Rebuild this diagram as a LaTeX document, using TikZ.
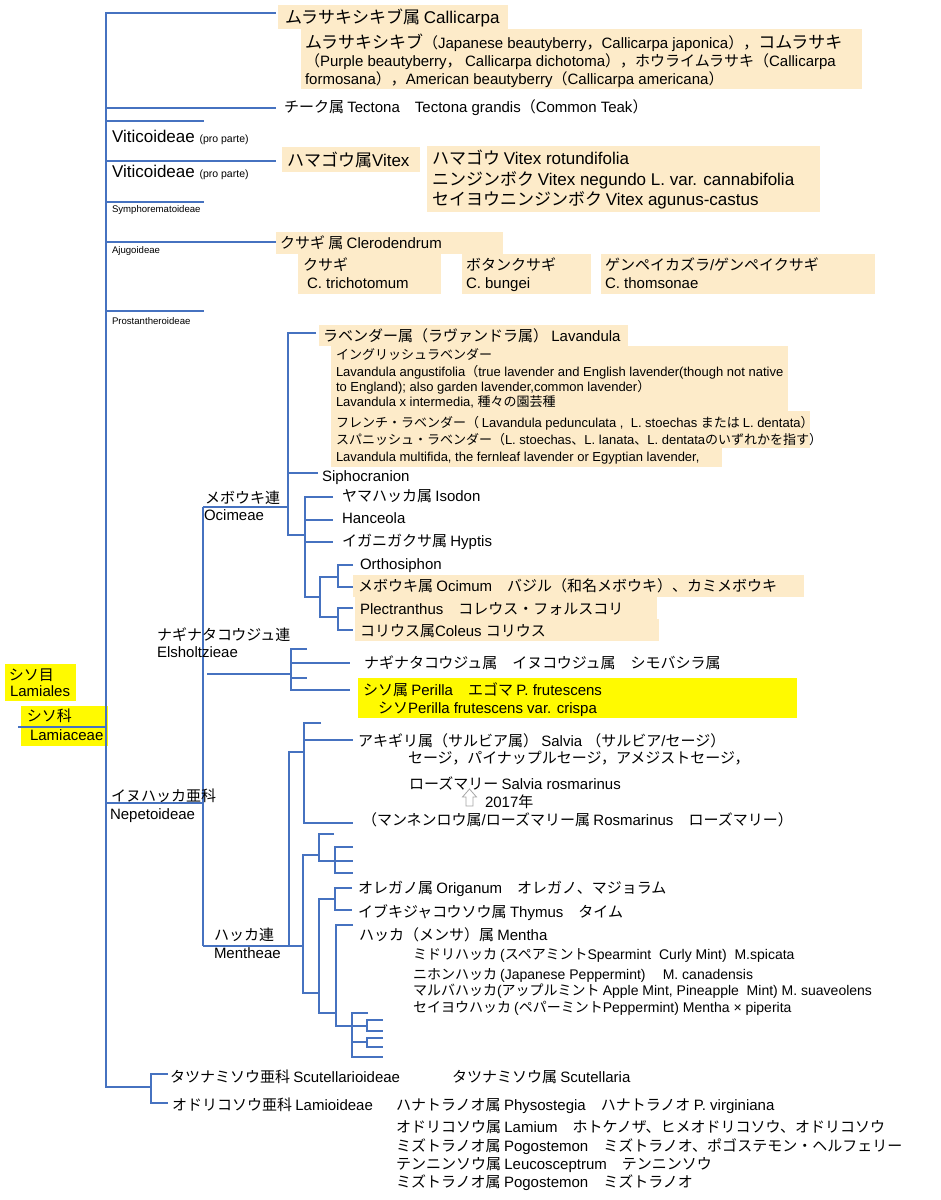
\documentclass[tikz,border=0pt]{standalone}
\usepackage{fontspec}
\setmainfont{Liberation Sans}
\newfontfamily\jpfont{Noto Sans CJK JP}
\newfontfamily\latinfont{Liberation Sans}
\definecolor{tblue}{RGB}{70,114,192}
\definecolor{peach}{RGB}{253,235,201}
\definecolor{hyel}{RGB}{255,250,0}
\newcommand\fsz[1]{\fontsize{#1pt}{#1pt}\selectfont}
% automatic font switching between Latin and Japanese
\newcount\jpc
\jpc="3000
\loop \XeTeXcharclass\jpc=10 \advance\jpc by 1 \ifnum\jpc<"A000 \repeat
\jpc="FF00
\loop \XeTeXcharclass\jpc=10 \advance\jpc by 1 \ifnum\jpc<"FFF0 \repeat
\XeTeXinterchartoks 0 10 = {\jpfont}
\XeTeXinterchartoks 4095 10 = {\jpfont}
\XeTeXinterchartoks 10 0 = {\latinfont}
\XeTeXinterchartoks 4095 0 = {\latinfont}
\tikzset{
  lbl/.style={anchor=west, inner sep=0pt, outer sep=0pt, text depth=0pt},
  t17/.style={lbl, font=\fsz{17}, text height=12.2pt},
  t15/.style={lbl, font=\fsz{15}, text height=10.8pt},
  t14/.style={lbl, font=\fsz{14}, text height=10.1pt},
  t13/.style={lbl, font=\fsz{13}, text height=9.4pt},
  t96/.style={lbl, font=\fsz{9.6}, text height=6.9pt},
  tl/.style={draw=tblue, line width=2.6pt},
}
\begin{document}
\XeTeXinterchartokenstate=1
\begin{tikzpicture}[x=1pt,y=-1pt]
\useasboundingbox (0,0) rectangle (941,1200);
\fill[white] (0,0) rectangle (941,1200);
% ---------- boxes
\fill[peach] (278,5) rectangle (508,29);
\fill[peach] (301,29) rectangle (862,89);
\fill[peach] (282,147) rectangle (420,172);
\fill[peach] (427,146) rectangle (820,212);
\fill[peach] (276,232) rectangle (503,254);
\fill[peach] (298,254) rectangle (441,294);
\fill[peach] (462,254) rectangle (591,294);
\fill[peach] (601,254) rectangle (875,294);
\fill[peach] (319,325) rectangle (628,346);
\fill[peach] (331,346) rectangle (788,411);
\fill[peach] (331,411) rectangle (810,448);
\fill[peach] (331,448) rectangle (722,467);
\fill[peach] (353,575) rectangle (804,597);
\fill[peach] (355,597) rectangle (657,619);
\fill[peach] (355,619) rectangle (659,641);
\fill[hyel] (358,678) rectangle (797,718);
\fill[hyel] (5,664) rectangle (76,701);
\fill[hyel] (21,706) rectangle (108,746);
% ---------- tree
\draw[tl] (106,12) -- (106,1088);
\draw[tl] (106,13) -- (276,13);
\draw[tl] (106,108) -- (276,108);
\draw[tl] (106,121) -- (204,121);
\draw[tl] (106,161) -- (276,161);
\draw[tl] (106,202) -- (204,202);
\draw[tl] (106,242) -- (276,242);
\draw[tl] (106,311) -- (204,311);
\draw[tl] (18,727) -- (106,727);
\draw[tl] (106,803) -- (203,803);
\draw[tl] (106,1087) -- (151,1087);
\draw[tl] (168,1074) -- (151,1074) -- (151,1103) -- (168,1103);
% Nepetoideae
\draw[tl] (203,507) -- (203,946);
% Ocimeae
\draw[tl] (203,507) -- (288,507);
\draw[tl] (316,333) -- (288,333) -- (288,535) -- (305,535);
\draw[tl] (288,473) -- (318,473);
\draw[tl] (333,497) -- (305,497) -- (305,597) -- (320,597);
\draw[tl] (305,520) -- (333,520);
\draw[tl] (305,542) -- (333,542);
\draw[tl] (338,577) -- (320,577) -- (320,617) -- (338,617);
\draw[tl] (353,565) -- (338,565) -- (338,587) -- (353,587);
\draw[tl] (353,608) -- (338,608) -- (338,630) -- (353,630);
% Elsholtzieae
\draw[tl] (207,674) -- (291,674);
\draw[tl] (307,649) -- (291,649) -- (291,690) -- (350,690);
\draw[tl] (291,663) -- (350,663);
\draw[tl] (291,678) -- (307,678);
% Mentheae
\draw[tl] (203,946) -- (303,946);
\draw[tl] (289,946) -- (289,752) -- (304,752);
\draw[tl] (321,723) -- (304,723) -- (304,823) -- (353,823);
\draw[tl] (304,740) -- (353,740);
\draw[tl] (319,855) -- (303,855) -- (303,993) -- (319,993);
\draw[tl] (334,834) -- (319,834) -- (319,861) -- (335,861);
\draw[tl] (353,847) -- (335,847) -- (335,873) -- (353,873);
\draw[tl] (335,861) -- (353,861);
\draw[tl] (335,899) -- (319,899) -- (319,1013) -- (336,1013);
\draw[tl] (352,888) -- (335,888) -- (335,910) -- (352,910);
\draw[tl] (353,925) -- (336,925) -- (336,1026) -- (367,1026);
\draw[tl] (368,1013) -- (352,1013) -- (352,1057) -- (383,1057);
\draw[tl] (383,1020) -- (367,1020) -- (367,1031) -- (383,1031);
\draw[tl] (352,1042) -- (367,1042);
\draw[tl] (383,1038) -- (367,1038) -- (367,1047) -- (383,1047);
% arrow
\draw[gray!70, fill=white, line width=0.8pt] (469.5,789) -- (476.5,797) -- (473,797) -- (473,806) -- (466,806) -- (466,797) -- (462.5,797) -- cycle;
% ---------- texts
\node[t17] (cal) at (285,17) {ムラサキシキブ属 Callicarpa};
\node[t17] (cal1) at (305,42) {ムラサキシキブ{\fsz{15}（Japanese beautyberry，Callicarpa japonica），}コムラサキ};
\node[t15] (cal2) at (305,61) {（Purple beautyberry， Callicarpa dichotoma），ホウライムラサキ（Callicarpa};
\node[t15] (cal3) at (305,79) {formosana），American beautyberry（Callicarpa americana）};
\node[t15] (tec) at (284,107) {チーク属 Tectona　Tectona grandis（Common Teak）};
\node[t17] (vit1) at (112,136) {Viticoideae {\fsz{10.5}(pro parte)}};
\node[t17] (vit2) at (112,171) {Viticoideae {\fsz{10.5}(pro parte)}};
\node[t96] (sym) at (112,209) {Symphorematoideae};
\node[t96] (aju) at (112,250) {Ajugoideae};
\node[t96] (pro) at (112,321) {Prostantheroideae};
\node[t17] (vitg) at (287,160) {ハマゴウ属Vitex};
\node[t17] (vx1) at (432,158) {ハマゴウ Vitex rotundifolia};
\node[t17] (vx2) at (432,179) {ニンジンボク Vitex negundo L. var. cannabifolia};
\node[t17] (vx3) at (432,199) {セイヨウニンジンボク Vitex agunus-castus};
\node[t15] (cle) at (280,243) {クサギ 属 Clerodendrum};
\node[t15] (k1) at (303,265) {クサギ};
\node[t15] (k2) at (307,283) {C. trichotomum};
\node[t15] (b1) at (466,265) {ボタンクサギ};
\node[t15] (b2) at (466,283) {C. bungei};
\node[t15] (g1) at (605,265) {ゲンペイカズラ/ゲンペイクサギ};
\node[t15] (g2) at (605,283) {C. thomsonae};
\node[t15] (lav) at (323,336) {ラベンダー属（ラヴァンドラ属） Lavandula};
\node[t13] (lv1) at (336,355) {イングリッシュラベンダー};
\node[t13] (lv2) at (336,372) {Lavandula angustifolia（true lavender and English lavender(though not native};
\node[t13] (lv3) at (336,387) {to England); also garden lavender,common lavender）};
\node[t13] (lv4) at (336,402) {Lavandula x intermedia, 種々の園芸種};
\node[t13] (lv5) at (336,423) {フレンチ・ラベンダー（ Lavandula pedunculata ,\ \ L. stoechas または L. dentata）};
\node[t13] (lv6) at (336,440) {スパニッシュ・ラベンダー（L. stoechas、L. lanata、L. dentataのいずれかを指す）};
\node[t13] (lv7) at (336,457) {Lavandula multifida, the fernleaf lavender or Egyptian lavender,};
\node[t15] (sip) at (322,476) {Siphocranion};
\node[t15] (iso) at (342,496) {ヤマハッカ属 Isodon};
\node[t15] (han) at (342,518) {Hanceola};
\node[t15] (hyp) at (342,541) {イガニガクサ属 Hyptis};
\node[t15] (ort) at (360,564) {Orthosiphon};
\node[t15] (oci) at (358,586) {メボウキ属 Ocimum　バジル（和名メボウキ）、カミメボウキ};
\node[t15] (ple) at (360,609) {Plectranthus　コレウス・フォルスコリ};
\node[t15] (col) at (360,631) {コリウス属Coleus コリウス};
\node[t15] (ocj) at (205,498) {メボウキ連};
\node[t15] (oce) at (204,515) {Ocimeae};
\node[t15] (elj) at (157,635) {ナギナタコウジュ連};
\node[t15] (ele) at (157,652) {Elsholtzieae};
\node[t15] (nag) at (364,663) {ナギナタコウジュ属　イヌコウジュ属　シモバシラ属};
\node[t15] (per1) at (363,690) {シソ属 Perilla　エゴマ P. frutescens};
\node[t15] (per2) at (378,708) {シソPerilla frutescens var. crispa};
\node[t15] (ordj) at (9,675) {シソ目};
\node[t15] (orde) at (10,691) {Lamiales};
\node[t15] (famj) at (27,716) {シソ科};
\node[t15] (fame) at (30,735) {Lamiaceae};
\node[t15] (nepj) at (111,796) {イヌハッカ亜科};
\node[t15] (nepe) at (110,814) {Nepetoideae};
\node[t15] (sal) at (358,741) {アキギリ属（サルビア属） Salvia （サルビア/セージ）};
\node[t15] (sal2) at (408,758) {セージ，パイナップルセージ，アメジストセージ，};
\node[t15] (ros) at (409,784) {ローズマリー Salvia rosmarinus};
\node[t15] (yr) at (485,802) {2017年};
\node[t15] (ros2) at (362,820) {（マンネンロウ属/ローズマリー属 Rosmarinus　ローズマリー）};
\node[t15] (menj) at (214,935) {ハッカ連};
\node[t15] (mene) at (214,953) {Mentheae};
\node[t15] (ori) at (358,888) {オレガノ属 Origanum　オレガノ、マジョラム};
\node[t15] (thy) at (358,912) {イブキジャコウソウ属 Thymus　タイム};
\node[t15] (mnt) at (359,935) {ハッカ（メンサ）属 Mentha};
\node[t14] (m1) at (413,954) {ミドリハッカ (スペアミントSpearmint\ \ Curly Mint)\ \ M.spicata};
\node[t14] (m2) at (413,974) {ニホンハッカ (Japanese Peppermint)　 M. canadensis};
\node[t14] (m3) at (413,990) {マルバハッカ(アップルミント Apple Mint, Pineapple\ \ Mint) M. suaveolens};
\node[t14] (m4) at (413,1007) {セイヨウハッカ (ペパーミントPeppermint) Mentha × piperita};
\node[t15] (scu) at (170,1077) {タツナミソウ亜科 Scutellarioideae};
\node[t15] (scg) at (452,1077) {タツナミソウ属 Scutellaria};
\node[t15] (lam) at (172,1105) {オドリコソウ亜科 Lamioideae};
\node[t15] (phy) at (396,1105) {ハナトラノオ属 Physostegia　ハナトラノオ P. virginiana};
\node[t15] (lmm) at (396,1127) {オドリコソウ属 Lamium　ホトケノザ、ヒメオドリコソウ、オドリコソウ};
\node[t15] (pog) at (396,1146) {ミズトラノオ属 Pogostemon　ミズトラノオ、ポゴステモン・ヘルフェリー};
\node[t15] (leu) at (396,1164) {テンニンソウ属 Leucosceptrum　テンニンソウ};
\node[t15] (pog2) at (396,1182) {ミズトラノオ属 Pogostemon　ミズトラノオ};
\end{tikzpicture}
\end{document}
